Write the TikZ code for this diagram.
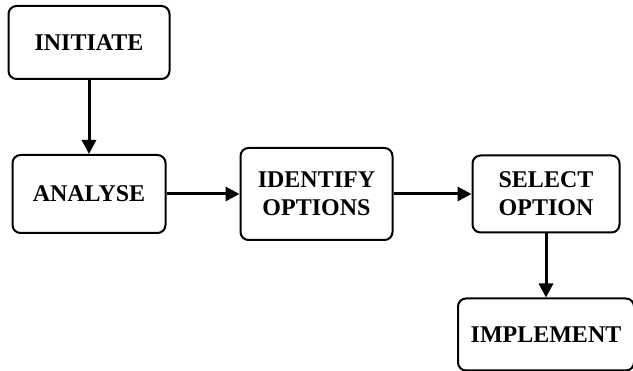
\documentclass[tikz,border=0pt]{standalone}
\usepackage{fontspec}
\setmainfont{Liberation Serif}
\usetikzlibrary{arrows.meta, positioning}
\begin{document}
\begin{tikzpicture}[
node distance=74pt and 73pt,
box/.style={rectangle, draw, line width=2pt, rounded corners=8pt, align=center, font=\fontsize{24}{28}\selectfont\bfseries},
arrow/.style={-{Triangle[length=14pt,width=14pt]}, line width=3pt}
]
\useasboundingbox (0,0) rectangle (633pt,-371pt);
\node[box, minimum width=161pt, minimum height=73pt] (init) at (89pt,-42.5pt) {INITIATE};
\node[box, below=of init, minimum width=153pt, minimum height=78pt] (analyse) {ANALYSE};
\node[box, right=of analyse, minimum width=152pt, minimum height=92pt] (identify) {IDENTIFY\\OPTIONS};
\node[box, right=78pt of identify, minimum width=147pt, minimum height=77pt] (select) {SELECT\\OPTION};
\node[box, below=64pt of select, minimum width=176pt, minimum height=72pt] (implement) {IMPLEMENT};

\draw[arrow] (init) -- (analyse);
\draw[arrow] (analyse) -- (identify);
\draw[arrow] (identify) -- (select);
\draw[arrow] (select) -- (implement);
\end{tikzpicture}
\end{document}
